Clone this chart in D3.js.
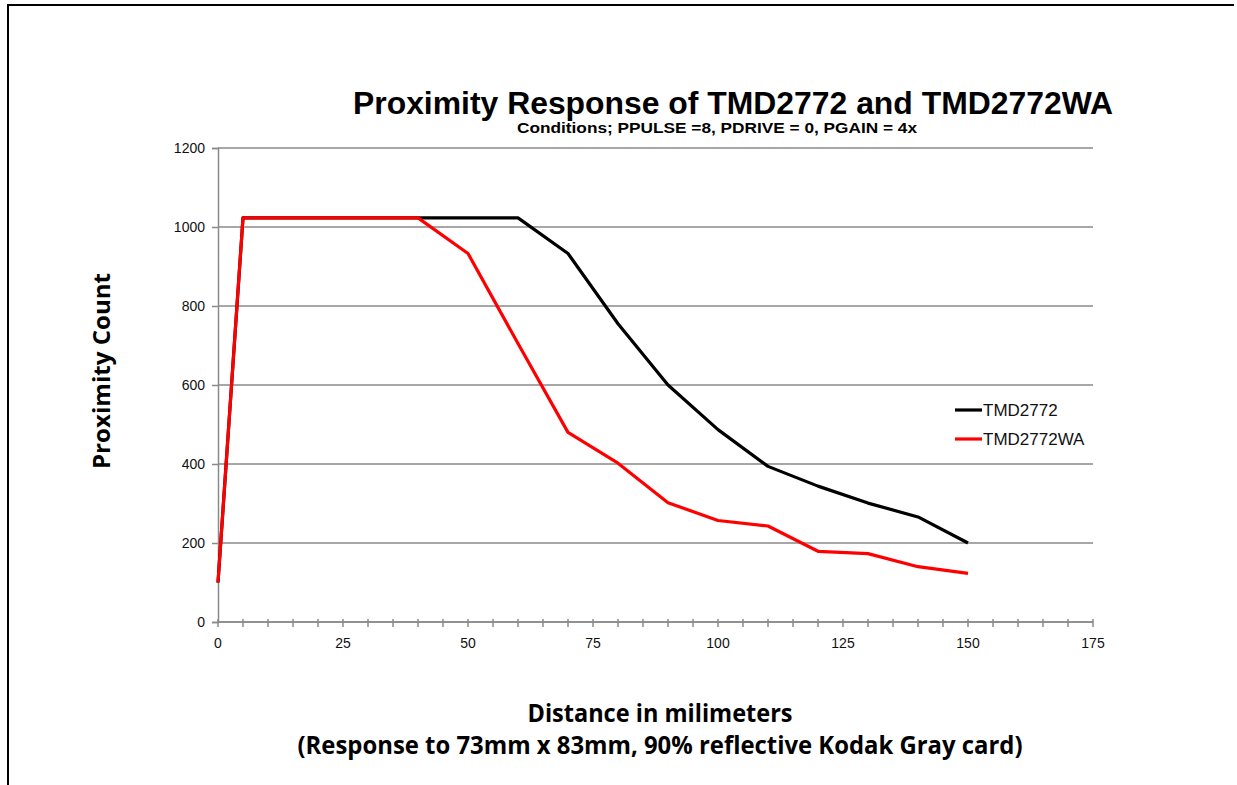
<!DOCTYPE html>
<html>
<head>
<meta charset="utf-8">
<script src="https://cdn.jsdelivr.net/npm/d3@7"></script>
<style>
  body { margin: 0; background: #fff; }
  svg { display: block; }
</style>
</head>
<body>
<svg width="1237" height="785"></svg>
<script>
const distances = [0, 5, 10, 20, 30, 40, 50, 60, 70, 80, 90, 100, 110, 120, 130, 140, 150];
const tmd2772 =   [100, 1023, 1023, 1023, 1023, 1023, 1023, 1023, 933, 755, 600, 487, 394, 344, 301, 266, 200];
const tmd2772wa = [100, 1023, 1023, 1023, 1023, 1023, 933, 705, 480, 402, 302, 257, 243, 179, 173, 140, 123];
const seriesNames = ["TMD2772", "TMD2772WA"];
const seriesColors = ["#000000", "#ff0000"];
const yTicks = [0, 200, 400, 600, 800, 1000, 1200];
const xTicks = [0, 25, 50, 75, 100, 125, 150, 175];

const svg = d3.select("svg");

// frame
svg.append("path")
    .attr("d", "M8,790 L8,5 L1234,5")
    .attr("fill", "none")
    .attr("stroke", "#000")
    .attr("stroke-width", 2);

const margin = {top: 148, right: 144, bottom: 163, left: 218};
const width = 1237 - margin.left - margin.right;
const height = 785 - margin.top - margin.bottom;

const g = svg.append("g").attr("transform", `translate(${margin.left},${margin.top})`);

const x = d3.scaleLinear().domain([0, 175]).range([0, width]);
const y = d3.scaleLinear().domain([0, 1200]).range([height, 0]);

const tickFont = "Liberation Sans, Arial, sans-serif";

// gridlines
g.selectAll(".grid")
    .data(yTicks)
    .enter().append("line")
    .attr("x1", 0)
    .attr("x2", width)
    .attr("y1", d => y(d))
    .attr("y2", d => y(d))
    .attr("stroke", "#8a8a8a")
    .attr("stroke-width", 1.5);

// y axis
const yAxis = g.append("g")
    .call(d3.axisLeft(y).tickValues(yTicks).tickFormat(d3.format("d")).tickSize(6).tickPadding(7));
yAxis.select(".domain").attr("stroke", "#8a8a8a").attr("stroke-width", 1.5);
yAxis.selectAll(".tick line").attr("stroke", "#8a8a8a").attr("stroke-width", 1.5);
yAxis.selectAll("text")
    .style("font-family", tickFont)
    .style("font-size", "14px")
    .attr("fill", "#111");

// x axis: small ticks crossing the axis every 5 mm
const xAxis = g.append("g").attr("transform", `translate(0,${height})`);
xAxis.append("line")
    .attr("x1", 0).attr("x2", width)
    .attr("stroke", "#8a8a8a").attr("stroke-width", 1.5);
xAxis.selectAll(".minor")
    .data(d3.range(0, 180, 5))
    .enter().append("line")
    .attr("x1", d => x(d)).attr("x2", d => x(d))
    .attr("y1", -3).attr("y2", 5)
    .attr("stroke", "#8a8a8a").attr("stroke-width", 1.5);
xAxis.selectAll(".lbl")
    .data(xTicks)
    .enter().append("text")
    .attr("x", d => x(d))
    .attr("y", 26)
    .attr("text-anchor", "middle")
    .style("font-family", tickFont)
    .style("font-size", "14px")
    .attr("fill", "#111")
    .text(d => d);

// lines
const line = d3.line()
    .x((d, i) => x(distances[i]))
    .y(d => y(d));

[tmd2772, tmd2772wa].forEach((vals, i) => {
    g.append("path")
        .datum(vals)
        .attr("fill", "none")
        .attr("stroke", seriesColors[i])
        .attr("stroke-width", 3.2)
        .attr("stroke-linejoin", "round")
        .attr("d", line);
});

// legend
const legend = svg.append("g").attr("transform", "translate(955,410)");
seriesNames.forEach((name, i) => {
    const row = legend.append("g").attr("transform", `translate(0,${i * 29})`);
    row.append("line")
        .attr("x1", 0).attr("x2", 27)
        .attr("stroke", seriesColors[i]).attr("stroke-width", 3.2);
    row.append("text")
        .attr("x", 28).attr("y", 6)
        .style("font-family", tickFont)
        .style("font-size", "17px")
        .attr("fill", "#111")
        .text(name);
});

// titles
svg.append("text")
    .attr("x", 733).attr("y", 114)
    .attr("text-anchor", "middle")
    .attr("textLength", 760)
    .attr("lengthAdjust", "spacingAndGlyphs")
    .style("font-family", tickFont)
    .style("font-weight", "bold")
    .style("font-size", "31px")
    .text("Proximity Response of TMD2772 and TMD2772WA");

svg.append("text")
    .attr("x", 717).attr("y", 133)
    .attr("text-anchor", "middle")
    .attr("textLength", 400)
    .attr("lengthAdjust", "spacingAndGlyphs")
    .style("font-family", tickFont)
    .style("font-weight", "bold")
    .style("font-size", "14px")
    .text("Conditions; PPULSE =8, PDRIVE = 0, PGAIN = 4x");

const axisTitleFont = "Open Sans, Noto Sans, sans-serif";

svg.append("text")
    .attr("transform", "translate(110,371) rotate(-90)")
    .attr("text-anchor", "middle")
    .attr("textLength", 196)
    .attr("lengthAdjust", "spacingAndGlyphs")
    .style("font-family", axisTitleFont)
    .style("font-weight", "bold")
    .style("font-size", "24px")
    .text("Proximity Count");

svg.append("text")
    .attr("x", 660).attr("y", 722)
    .attr("text-anchor", "middle")
    .attr("textLength", 265)
    .attr("lengthAdjust", "spacingAndGlyphs")
    .style("font-family", axisTitleFont)
    .style("font-weight", "bold")
    .style("font-size", "25px")
    .text("Distance in milimeters");

svg.append("text")
    .attr("x", 660).attr("y", 754)
    .attr("text-anchor", "middle")
    .attr("textLength", 725)
    .attr("lengthAdjust", "spacingAndGlyphs")
    .style("font-family", axisTitleFont)
    .style("font-weight", "bold")
    .style("font-size", "25px")
    .text("(Response to 73mm x 83mm, 90% reflective Kodak Gray card)");
</script>
</body>
</html>
